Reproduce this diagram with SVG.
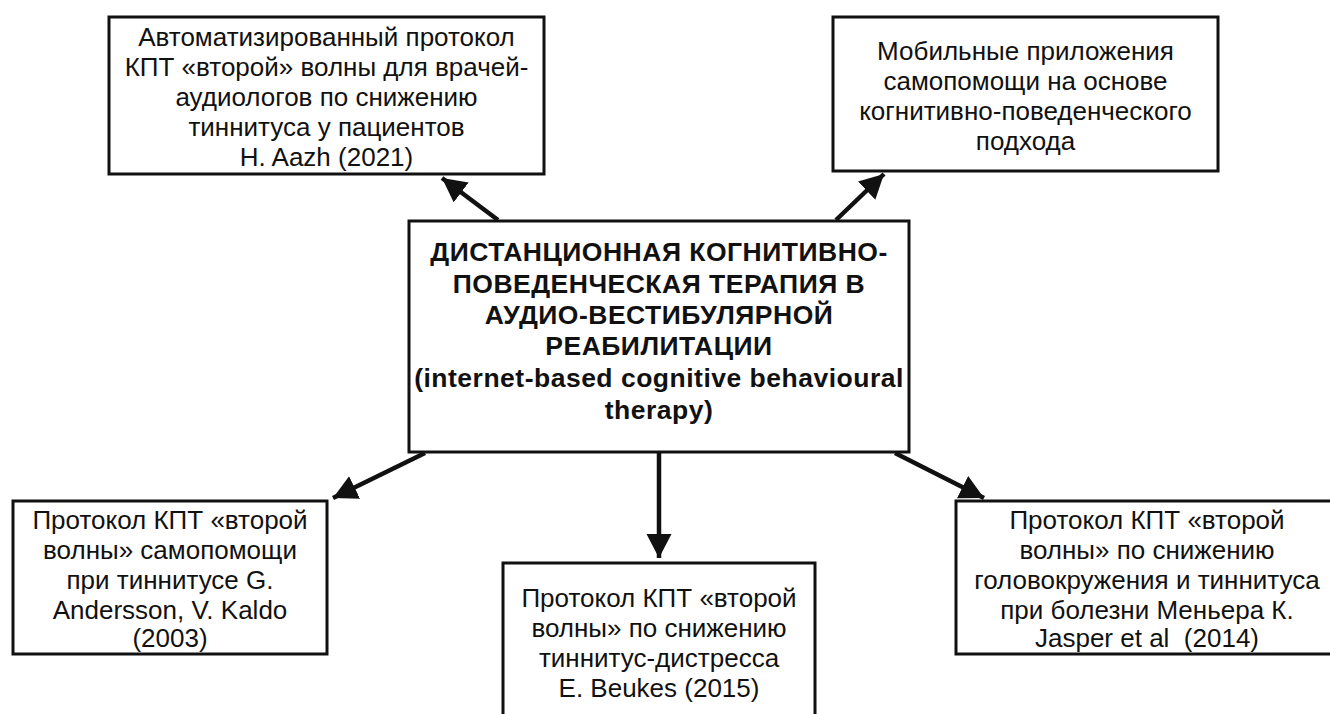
<svg xmlns="http://www.w3.org/2000/svg" width="1330" height="714" viewBox="0 0 1330 714">
<defs>
<style>
.box{fill:#fff;stroke:#111;stroke-width:3}
.t{font-family:"Liberation Sans",Arial,sans-serif;font-size:26px;fill:#111;text-anchor:middle}
.b{font-weight:bold;font-size:26.5px;letter-spacing:0.5px}
.c{stroke:#111;stroke-width:4.5;fill:none}
</style>
<marker id="ah" markerUnits="userSpaceOnUse" markerWidth="27" markerHeight="27" refX="24" refY="12.5" orient="auto">
<path d="M0,0 L24,12.5 L0,25 Z" fill="#111"/>
</marker>
</defs>
<rect width="1330" height="714" fill="#fff"/>
<g id="n1">
<rect class="box" x="109" y="17" width="435" height="157"/>
<text class="t" x="326.5" y="46">Автоматизированный протокол</text>
<text class="t" x="326.5" y="76">КПТ «второй» волны для врачей-</text>
<text class="t" x="326.5" y="106">аудиологов по снижению</text>
<text class="t" x="326.5" y="136">тиннитуса у пациентов</text>
<text class="t" x="326.5" y="166">H. Aazh (2021)</text>
</g>
<g id="n2">
<rect class="box" x="833" y="17" width="385" height="154"/>
<text class="t" x="1025.5" y="60">Мобильные приложения</text>
<text class="t" x="1025.5" y="90">самопомощи на основе</text>
<text class="t" x="1025.5" y="120">когнитивно-поведенческого</text>
<text class="t" x="1025.5" y="150">подхода</text>
</g>
<g id="center">
<rect class="box" x="409" y="221" width="500" height="231"/>
<text class="t b" x="659" y="261">ДИСТАНЦИОННАЯ КОГНИТИВНО-</text>
<text class="t b" x="659" y="293">ПОВЕДЕНЧЕСКАЯ ТЕРАПИЯ В</text>
<text class="t b" x="659" y="324">АУДИО-ВЕСТИБУЛЯРНОЙ</text>
<text class="t b" x="659" y="355">РЕАБИЛИТАЦИИ</text>
<text class="t b" x="659" y="387">(internet-based cognitive behavioural</text>
<text class="t b" x="659" y="419">therapy)</text>
</g>
<g id="n3">
<rect class="box" x="13" y="501" width="314" height="153"/>
<text class="t" x="170" y="529">Протокол КПТ «второй</text>
<text class="t" x="170" y="559">волны» самопомощи</text>
<text class="t" x="170" y="589">при тиннитусе G.</text>
<text class="t" x="170" y="619">Andersson, V. Kaldo</text>
<text class="t" x="170" y="647">(2003)</text>
</g>
<g id="n4">
<rect class="box" x="503" y="563" width="312" height="170"/>
<text class="t" x="659" y="607">Протокол КПТ «второй</text>
<text class="t" x="659" y="637">волны» по снижению</text>
<text class="t" x="659" y="667">тиннитус-дистресса</text>
<text class="t" x="659" y="697">E. Beukes (2015)</text>
</g>
<g id="n5">
<rect class="box" x="956" y="501" width="384" height="153"/>
<text class="t" x="1147" y="529">Протокол КПТ «второй</text>
<text class="t" x="1147" y="559">волны» по снижению</text>
<text class="t" x="1147" y="589">головокружения и тиннитуса</text>
<text class="t" x="1147" y="619">при болезни Меньера К.</text>
<text class="t" x="1147" y="647" xml:space="preserve">Jasper et al  (2014)</text>
</g>
<g id="connectors">
<line class="c" x1="498" y1="220" x2="442" y2="178" marker-end="url(#ah)"/>
<line class="c" x1="836" y1="220" x2="884" y2="174" marker-end="url(#ah)"/>
<line class="c" x1="425" y1="453" x2="333" y2="498" marker-end="url(#ah)"/>
<line class="c" x1="659" y1="452" x2="659" y2="558" marker-end="url(#ah)"/>
<line class="c" x1="895" y1="453" x2="984" y2="498" marker-end="url(#ah)"/>
</g>
</svg>
